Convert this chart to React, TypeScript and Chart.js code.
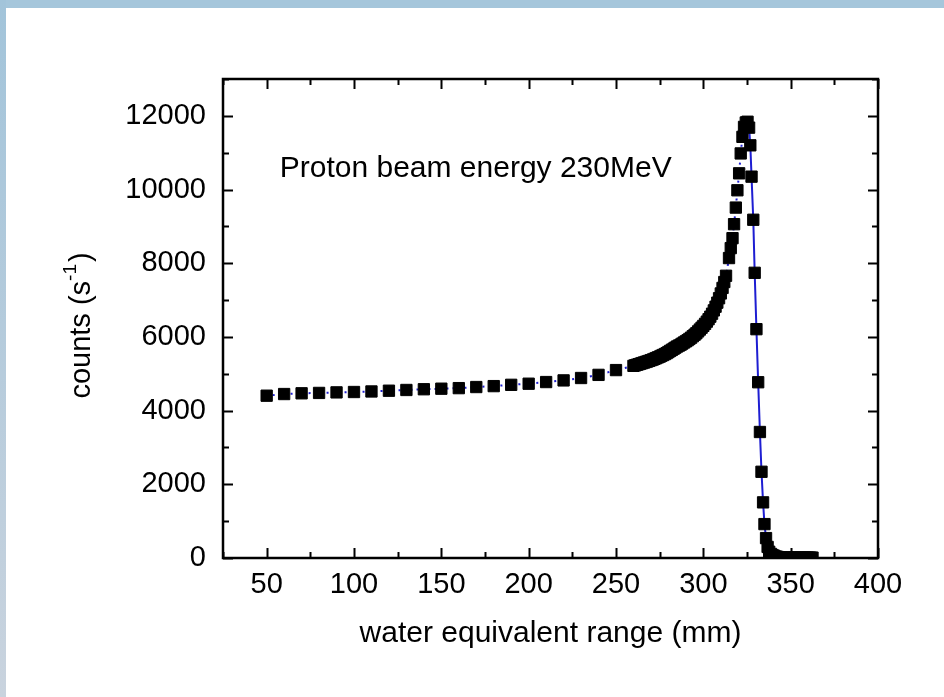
import React, { useEffect, useRef } from 'react';
import { Chart, registerables } from 'chart.js';

Chart.register(...registerables);

// ---- data (water equivalent range in mm, counts per second) ----
const plateauRange = [50, 60, 70, 80, 90, 100, 110, 120, 130, 140, 150, 160, 170, 180, 190, 200, 210, 220, 230, 240, 250];
const plateauCounts = [4405, 4450, 4470, 4480, 4495, 4505, 4520, 4540, 4560, 4580, 4595, 4610, 4640, 4665, 4700, 4730, 4775, 4820, 4885, 4970, 5100];

const riseRange = [260, 261, 262, 263, 264, 265, 266, 267, 268, 269, 270, 271, 272, 273, 274, 275, 276, 277, 278, 279, 280, 281, 282, 283, 284, 285, 286, 287, 288, 289, 290, 291, 292, 293, 294, 295, 296, 297, 298, 299, 300, 301, 302, 303, 304, 305, 306, 307, 308, 309, 310, 311, 312, 313];
const riseCounts = [5215, 5230, 5245, 5260, 5275, 5290, 5305, 5320, 5335, 5350, 5370, 5385, 5405, 5425, 5445, 5465, 5490, 5510, 5535, 5560, 5590, 5620, 5650, 5680, 5710, 5740, 5765, 5790, 5820, 5850, 5880, 5910, 5945, 5980, 6020, 6060, 6100, 6150, 6200, 6250, 6300, 6355, 6415, 6480, 6550, 6630, 6720, 6820, 6930, 7050, 7180, 7330, 7490, 7660];

const peakRange = [314.7, 315.7, 316.7, 317.6, 318.6, 319.5, 320.5, 321.4, 322.4, 323.3, 324.3, 325.3, 326.2, 326.9, 327.6, 328.6, 329.4, 330.4, 331.4, 332.4, 333.3, 334.2, 335.0, 335.9, 336.8, 337.7];
const peakCounts = [8140, 8410, 8680, 9060, 9510, 9980, 10440, 10980, 11430, 11700, 11820, 11840, 11680, 11200, 10350, 9180, 7740, 6210, 4770, 3420, 2340, 1510, 920, 540, 300, 170];

const tailRange = [338.7, 339.6, 340.5, 341.5, 342.5, 343.5, 344.5, 345.5, 346.5, 347.5, 348.5, 349.5, 350.5, 351.5, 352.5, 353.5, 354.5, 355.5, 356.5, 357.5, 358.5, 359.5, 360.5, 361.5, 362.5];
const tailCounts = [110, 80, 60, 40, 30, 20, 15, 10, 10, 10, 10, 10, 10, 10, 10, 10, 10, 10, 10, 10, 10, 10, 10, 10, 10];

const xTickLabels = ['50', '100', '150', '200', '250', '300', '350', '400'];
const yTickLabels = ['0', '2000', '4000', '6000', '8000', '10000', '12000'];

const xAxisTitle = 'water equivalent range (mm)';
const yTitleMain = 'counts (s';
const yTitleSup = '-1';
const yTitleEnd = ')';
const annotationText = 'Proton beam energy 230MeV';
const annotationAt = { x: 57.5, y: 10350 };

const FONT = '"Liberation Sans", Arial, Helvetica, sans-serif';

const framePlugin = {
  id: 'frameTicks',
  afterDatasetsDraw(chart: any) {
    const { ctx, chartArea: a, scales } = chart;
    ctx.save();
    ctx.strokeStyle = '#000';
    ctx.lineWidth = 2;
    ctx.beginPath();
    for (const t of scales.x.ticks) {
      const px = Math.round(scales.x.getPixelForValue(t.value)) + 0.5;
      const major = xTickLabels.includes(String(t.value));
      const len = major ? 10 : 6;
      ctx.moveTo(px, a.bottom);
      ctx.lineTo(px, a.bottom - len);
      ctx.moveTo(px, a.top);
      ctx.lineTo(px, a.top + len);
    }
    for (const t of scales.y.ticks) {
      const py = Math.round(scales.y.getPixelForValue(t.value)) + 0.5;
      const major = yTickLabels.includes(String(t.value));
      const len = major ? 10 : 6;
      ctx.moveTo(a.left, py);
      ctx.lineTo(a.left + len, py);
      ctx.moveTo(a.right, py);
      ctx.lineTo(a.right - len, py);
    }
    ctx.stroke();
    ctx.lineWidth = 2.5;
    ctx.strokeRect(a.left, a.top, a.right - a.left, a.bottom - a.top);

    // annotation text
    ctx.fillStyle = '#000';
    ctx.font = `30px ${FONT}`;
    ctx.textAlign = 'left';
    ctx.textBaseline = 'alphabetic';
    ctx.fillText(
      annotationText,
      scales.x.getPixelForValue(annotationAt.x),
      scales.y.getPixelForValue(annotationAt.y)
    );

    // y-axis title with superscript
    const mainFont = `29px ${FONT}`;
    const supFont = `19px ${FONT}`;
    ctx.font = mainFont;
    const w1 = ctx.measureText(yTitleMain).width;
    const w3 = ctx.measureText(yTitleEnd).width;
    ctx.font = supFont;
    const w2 = ctx.measureText(yTitleSup).width;
    const total = w1 + w2 + w3 + 2;
    const cx = a.left - 133;
    const cy = (a.top + a.bottom) / 2 + 7;
    ctx.translate(cx, cy);
    ctx.rotate(-Math.PI / 2);
    let x0 = -total / 2;
    ctx.font = mainFont;
    ctx.fillText(yTitleMain, x0, 0);
    x0 += w1;
    ctx.font = supFont;
    ctx.fillText(yTitleSup, x0, -14);
    x0 += w2 + 2;
    ctx.font = mainFont;
    ctx.fillText(yTitleEnd, x0, 0);
    ctx.restore();
  },
};

export default function App() {
  const ref = useRef<HTMLCanvasElement>(null);

  useEffect(() => {
    if (!ref.current) return;
    const xs = [...plateauRange, ...riseRange, ...peakRange, ...tailRange];
    const ys = [...plateauCounts, ...riseCounts, ...peakCounts, ...tailCounts];
    const points = xs.map((x, i) => ({ x, y: ys[i] }));

    const chart = new Chart(ref.current, {
      type: 'line',
      data: {
        datasets: [
          {
            data: points,
            borderColor: '#1e1ed2',
            borderWidth: 2,
            tension: 0,
            pointStyle: 'rect',
            pointRadius: 8,
            pointBorderWidth: 1,
            pointBackgroundColor: '#000',
            pointBorderColor: '#000',
            clip: 1,
            segment: {
              borderDash: (c: any) => (c.p0.parsed.x < 325 ? [2, 4] : undefined),
            },
          } as any,
        ],
      },
      options: {
        responsive: false,
        animation: false,
        events: [],
        layout: { padding: { left: 0, top: 79, right: 66, bottom: 0 } },
        plugins: { legend: { display: false }, tooltip: { enabled: false } },
        scales: {
          x: {
            type: 'linear',
            min: 25,
            max: 400,
            grid: { display: false, drawTicks: false },
            border: { display: false },
            ticks: {
              stepSize: 25,
              autoSkip: false,
              maxRotation: 0,
              padding: 10,
              color: '#000',
              font: { family: FONT, size: 29 },
              callback: (v: any) => (xTickLabels.includes(String(v)) ? String(v) : ''),
            },
            title: {
              display: true,
              text: xAxisTitle,
              color: '#000',
              font: { family: FONT, size: 30 },
              padding: { top: 0, bottom: 45 },
            },
            afterFit: (s: any) => {
              s.height = 139;
            },
          },
          y: {
            type: 'linear',
            min: 0,
            max: 13000,
            grid: { display: false, drawTicks: false },
            border: { display: false },
            ticks: {
              stepSize: 1000,
              autoSkip: false,
              padding: 17,
              color: '#000',
              font: { family: FONT, size: 29 },
              callback: (v: any) => (yTickLabels.includes(String(v)) ? String(v) : ''),
            },
            afterFit: (s: any) => {
              s.width = 223;
            },
          },
        },
      },
      plugins: [framePlugin],
    });
    return () => chart.destroy();
  }, []);

  return (
    <div style={{ position: 'fixed', left: 0, top: 0, width: 944, height: 697, background: '#fff', overflow: 'hidden' }}>
      <div style={{ position: 'absolute', left: 0, top: 0, width: 944, height: 8, background: '#a5c6db' }} />
      <div
        style={{
          position: 'absolute',
          left: 0,
          top: 0,
          width: 6,
          height: 697,
          background: 'linear-gradient(#a2c4da, #c9d3de)',
        }}
      />
      <canvas ref={ref} width={944} height={697} style={{ position: 'absolute', left: 0, top: 0 }} />
    </div>
  );
}
